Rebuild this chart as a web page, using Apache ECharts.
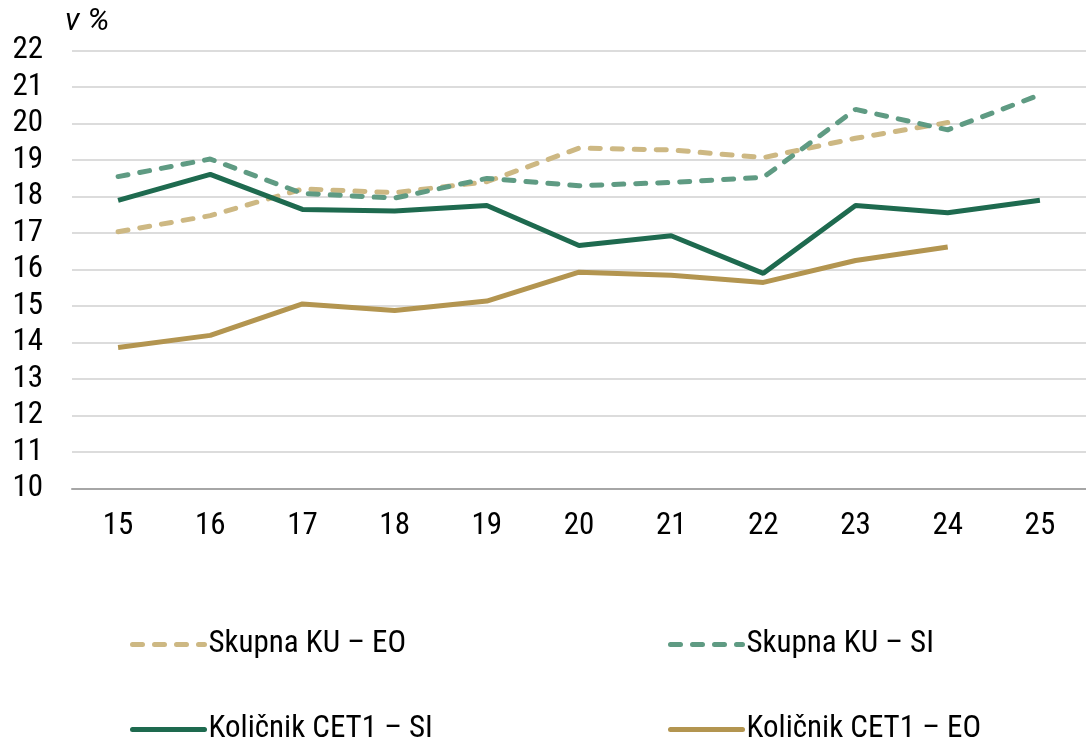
<!DOCTYPE html>
<html>
<head>
<meta charset="utf-8">
<script src="https://cdn.jsdelivr.net/npm/echarts@6/dist/echarts.min.js"></script>
<style>
html,body{margin:0;padding:0;background:#fff;}
#chart{width:1086px;height:741px;}
</style>
</head>
<body>
<div id="chart"></div>
<script>
const categories = ['15','16','17','18','19','20','21','22','23','24','25'];
const skupnaEO = [17.03, 17.47, 18.2, 18.1, 18.4, 19.32, 19.27, 19.06, 19.59, 20.02, null];
const skupnaSI = [18.54, 19.02, 18.08, 17.95, 18.49, 18.29, 18.38, 18.52, 20.38, 19.82, 20.78];
const cet1SI = [17.89, 18.6, 17.64, 17.6, 17.75, 16.65, 16.92, 15.89, 17.75, 17.55, 17.89];
const cet1EO = [13.86, 14.19, 15.05, 14.87, 15.13, 15.92, 15.84, 15.64, 16.24, 16.61, null];
const seriesNames = ['Skupna KU – EO', 'Skupna KU – SI', 'Količnik CET1 – SI', 'Količnik CET1 – EO'];
const yUnit = 'v %';

const FONT = 'Roboto, "Liberation Sans", sans-serif';
const STRETCH = 'condensed';
const colors = ['#cdb883', '#5f9b83', '#1e6a4f', '#b39550'];
const dashed = [10, 12];

const chart = echarts.init(document.getElementById('chart'), null, {renderer: 'canvas'});

function legendAt(idx, left, top) {
  const s = idx < 2;
  return {
    data: [seriesNames[idx]], left: left, top: top, orient: 'horizontal',
    itemWidth: 72, itemHeight: 14, itemGap: 0, padding: 0,
    selectedMode: false,
    itemStyle: {opacity: 0},
    lineStyle: {width: 5, color: colors[idx], type: s ? dashed : 'solid', cap: 'round'},
    textStyle: {fontFamily: FONT, fontWeight: STRETCH, fontSize: 31, color: '#000', padding: [0, 0, 0, -1]}
  };
}

chart.setOption({
  animation: false,
  color: colors,
  grid: {left: 72, top: 50.3, width: 1022, height: 438, containLabel: false},
  title: {
    text: yUnit, left: 65, top: 7, padding: 0,
    textStyle: {fontStyle: 'italic', fontWeight: 'normal', fontSize: 31, fontFamily: FONT, color: '#000'}
  },
  legend: [
    legendAt(0, 130, 629),
    legendAt(1, 668, 629),
    legendAt(2, 130, 714),
    legendAt(3, 668, 714)
  ],
  xAxis: {
    type: 'category', data: categories, boundaryGap: true,
    axisLine: {show: true, lineStyle: {color: '#a6a6a6', width: 2}},
    axisTick: {show: false},
    axisLabel: {fontFamily: FONT, fontWeight: STRETCH, fontSize: 31, color: '#000', margin: 22}
  },
  yAxis: {
    type: 'value', min: 10, max: 22, interval: 1,
    axisLine: {show: false}, axisTick: {show: false},
    splitLine: {lineStyle: {color: '#d0d0d0', width: 1.5}},
    axisLabel: {fontFamily: FONT, fontWeight: STRETCH, fontSize: 31, color: '#000', margin: 29}
  },
  series: [
    {name: seriesNames[0], type: 'line', data: skupnaEO, symbol: 'none', z: 2,
     lineStyle: {width: 5, type: dashed, cap: 'round', color: colors[0]}},
    {name: seriesNames[1], type: 'line', data: skupnaSI, symbol: 'none', z: 3,
     lineStyle: {width: 5, type: dashed, cap: 'round', color: colors[1]}},
    {name: seriesNames[2], type: 'line', data: cet1SI, symbol: 'none', z: 4,
     lineStyle: {width: 5, color: colors[2]}},
    {name: seriesNames[3], type: 'line', data: cet1EO, symbol: 'none', z: 4,
     lineStyle: {width: 5, color: colors[3]}}
  ]
});
</script>
</body>
</html>
